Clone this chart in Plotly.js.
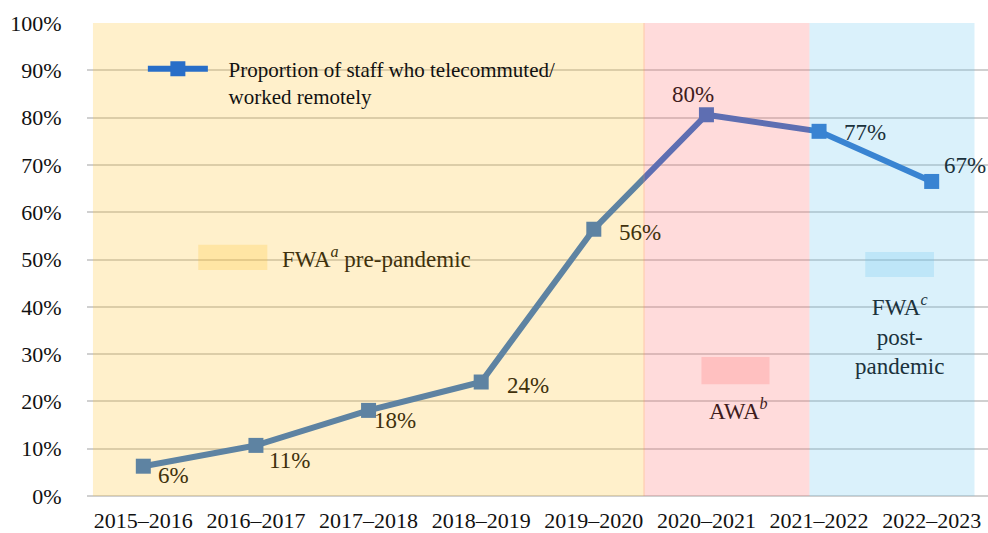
<!DOCTYPE html>
<html>
<head>
<meta charset="utf-8">
<script src="https://cdn.plot.ly/plotly-3.0.1.min.js"></script>
<style>html,body{margin:0;padding:0;background:#fff;}#chart{width:988px;height:533px;}</style>
</head>
<body>
<div id="chart"></div>
<script>
// ---- data ----
const categories = ['2015–2016','2016–2017','2017–2018','2018–2019','2019–2020','2020–2021','2021–2022','2022–2023'];
const values = [6.3, 10.7, 18.1, 24.1, 56.4, 80.6, 77.1, 66.5];
const labels = ['6%','11%','18%','24%','56%','80%','77%','67%'];
const seriesName = '\u00A0\u00A0\u00A0Proportion of staff who telecommuted/<br>\u00A0\u00A0\u00A0worked remotely';
const regionNames = ['FWA<sup><i>a</i></sup> pre-pandemic', 'AWA<sup><i>b</i></sup>', 'FWA<sup><i>c</i></sup><br>post-<br>pandemic'];

// ---- styles ----
const FONT = 'Liberation Serif, Times New Roman, serif';
const lineColor = '#286EC8';
const yellow = 'rgb(255,195,47)', pink = 'rgb(255,111,111)', blue = 'rgb(107,199,239)';
const OP = 0.25;
const labelOffsets = [[30,-9],[34,-15],[26,-10],[47,-3],[46,-3],[-13,20],[46,-1],[33,16]];
const labelColors = ['#40310C','#40310C','#40310C','#40310C','#40310C','#401C1C','#1B323C','#1B323C'];

const trace = {
  x: categories, y: values, type: 'scatter', mode: 'lines+markers',
  name: seriesName,
  line: {color: lineColor, width: 6},
  marker: {symbol: 'square', size: 15, color: lineColor},
  hoverinfo: 'x+y'
};

const annotations = labels.map((t, i) => ({
  x: categories[i], y: values[i], xref: 'x', yref: 'y', text: t, showarrow: false,
  xshift: labelOffsets[i][0], yshift: labelOffsets[i][1],
  font: {family: FONT, size: 23, color: labelColors[i]}
}));
annotations.push(
  {x: 1.217, y: 50.4, xref: 'x', yref: 'y', xanchor: 'left', text: regionNames[0], showarrow: false,
   font: {family: FONT, size: 23, color: '#40310C'}},
  {x: 5.284, y: 18.3, xref: 'x', yref: 'y', text: regionNames[1], showarrow: false,
   font: {family: FONT, size: 23, color: '#401C1C'}},
  {x: 6.714, y: 34.0, xref: 'x', yref: 'y', text: regionNames[2], showarrow: false,
   font: {family: FONT, size: 23, color: '#1B323C'}}
);

function rect(x0, x1, y0, y1, c) {
  return {type: 'rect', xref: 'x', yref: 'y', x0: x0, x1: x1, y0: y0, y1: y1,
          fillcolor: c, opacity: OP, line: {width: 0}, layer: 'above'};
}
const shapes = [
  rect(-0.447, 4.452, 0, 100, yellow),
  rect(4.44, 5.915, -0.35, 100, pink),
  rect(5.915, 7.38, 0, 100, blue),
  rect(0.488, 1.101, 47.8, 53.1, yellow),
  rect(4.956, 5.56, 23.6, 29.4, pink),
  rect(6.41, 7.02, 46.3, 51.6, blue)
];

const layout = {
  width: 988, height: 533,
  margin: {l: 87, r: 0, t: 23, b: 37},
  paper_bgcolor: '#fff', plot_bgcolor: '#fff',
  font: {family: FONT, size: 22, color: '#111'},
  showlegend: true,
  legend: {x: 0.062, y: 0.946, xanchor: 'left', yanchor: 'top', bgcolor: 'rgba(0,0,0,0)',
           itemwidth: 60, valign: 'top', font: {family: FONT, size: 21, color: '#111'}},
  xaxis: {type: 'category', range: [-0.5, 7.5], showgrid: false, zeroline: false, showline: false,
          ticks: 'outside', ticklen: 5, tickcolor: 'rgba(0,0,0,0)',
          tickfont: {family: FONT, size: 22, color: '#111'}, fixedrange: true},
  yaxis: {range: [0, 100], dtick: 10, ticksuffix: '%', showgrid: true, gridcolor: '#D0D0D0', gridwidth: 2,
          zeroline: true, zerolinecolor: '#D0D0D0', zerolinewidth: 2, showline: false,
          ticks: 'outside', ticklen: 20, tickcolor: 'rgba(0,0,0,0)',
          tickfont: {family: FONT, size: 22, color: '#111'}, fixedrange: true},
  shapes: shapes,
  annotations: annotations
};

Plotly.newPlot('chart', [trace], layout, {displayModeBar: false, staticPlot: true});
</script>
</body>
</html>
